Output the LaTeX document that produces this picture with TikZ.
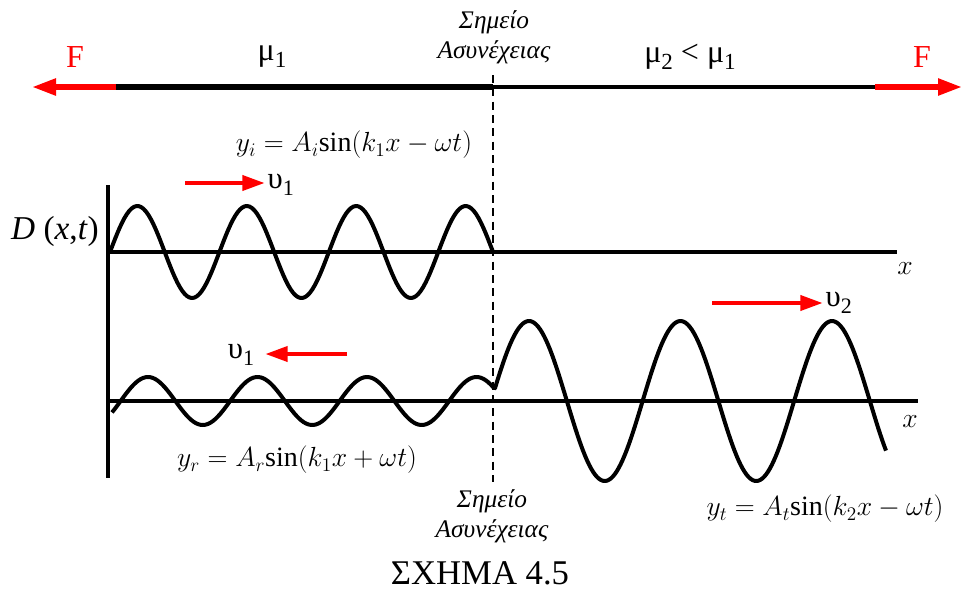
\documentclass[tikz,border=0pt]{standalone}
\usepackage{fontspec}
\usepackage{graphicx}
\setmainfont{Liberation Serif}
\newfontfamily\tnr{Liberation Serif}
\usetikzlibrary{arrows.meta}
\newcommand\lsub[1]{\raisebox{-0.22em}{\scalebox{0.72}{#1}}}
\tikzset{
  force/.style={red, line width=4pt, -{Triangle[length=18pt,width=12pt]}},
  vel/.style={red, line width=3.5pt, -{Triangle[length=17pt,width=11pt]}},
  wave/.style={line width=3pt, line join=round},
  axisline/.style={line width=2.3pt},
  disc/.style={line width=1pt, dash pattern=on 6pt off 4pt},
  big/.style={font=\tnr\fontsize{24}{28}\selectfont},
  lbl/.style={font=\tnr\fontsize{23}{26}\selectfont},
  formula/.style={font=\fontsize{21}{24}\selectfont},
  greek/.style={font=\tnr\fontsize{19}{22.5}\selectfont\itshape, align=center},
}
\begin{document}
\begin{tikzpicture}[x=0.75pt,y=-0.75pt]
\useasboundingbox (0,0) rectangle (963,590);
% string
\coordinate (sL) at (116,87);
\coordinate (sM) at (493,87);
\coordinate (sR) at (875,87);
\coordinate (fL) at (32,87);
\coordinate (fR) at (962,87);
\draw[line width=5pt] (sL) -- (sM);
\draw[line width=3pt] (sM) -- (sR);
\draw[force] (sL) -- (fL);
\draw[force] (sR) -- (fR);
\node[big, red] (FL) at (75,57) {F};
\node[big, red] (FR) at (922,57) {F};
\node[big] (mu1) at (272,57) {μ\lsub{1}};
\node[big] (mu2) at (690,57) {μ\lsub{2} < μ\lsub{1}};
\node[greek] (discT) at (494,37) {Σημείο\\Ασυνέχειας};
% discontinuity line
\coordinate (dT) at (493,75);
\coordinate (dB) at (493,482);
\draw[disc] (dT) -- (dB);
% axes
\coordinate (vT) at (108,185);
\coordinate (vB) at (108,478);
\coordinate (a1L) at (108,252);
\coordinate (a1R) at (897,252);
\coordinate (a2L) at (108,401);
\coordinate (a2R) at (918,401);
\draw[axisline] (vT) -- (vB);
\draw[axisline] (a1L) -- (a1R);
\draw[axisline] (a2L) -- (a2R);
\node[lbl, font=\tnr\fontsize{25}{28}\selectfont] (D) at (55,231) {\textit{D} (\textit{x},\textit{t})};
\node[formula] (x1) at (905,269) {$x$};
\node[formula] (x2) at (910,422) {$x$};
% waves
\draw[wave] plot[domain=110:493, samples=160] (\x,{252-46*sin(3.28977*(\x-110))});
\draw[wave] plot[domain=112:493, samples=160] (\x,{401-24*cos(3.28767*(\x-148))})
  -- plot[domain=495:886, samples=200] (\x,{401-80*cos(2.37624*(\x-529))});
% velocity arrows
\coordinate (v1a) at (185,183);
\coordinate (v1b) at (265,183);
\draw[vel] (v1a) -- (v1b);
\node[lbl, anchor=west] (u1) at (263,185) {υ\lsub{1}};
\coordinate (v2a) at (347,354);
\coordinate (v2b) at (265,354);
\draw[vel] (v2a) -- (v2b);
\node[lbl] (u1b) at (241,355) {υ\lsub{1}};
\coordinate (v3a) at (712,303);
\coordinate (v3b) at (823,303);
\draw[vel] (v3a) -- (v3b);
\node[lbl, anchor=west] (u2) at (821,303) {υ\lsub{2}};
% formulas
\node[formula] (yi) at (354,145) {$y_i = A_i\mathrm{sin}(k_1x-\omega t)$};
\node[formula] (yr) at (297,460) {$y_r = A_r\mathrm{sin}(k_1x+\omega t)$};
\node[formula] (yt) at (825,509) {$y_t = A_t\mathrm{sin}(k_2x-\omega t)$};
\node[greek] (discB) at (492,516) {Σημείο\\Ασυνέχειας};
\node[big, font=\tnr\fontsize{26}{28}\selectfont, anchor=base] (cap) at (480,584) {ΣΧΗΜΑ 4.5};
\end{tikzpicture}
\end{document}
